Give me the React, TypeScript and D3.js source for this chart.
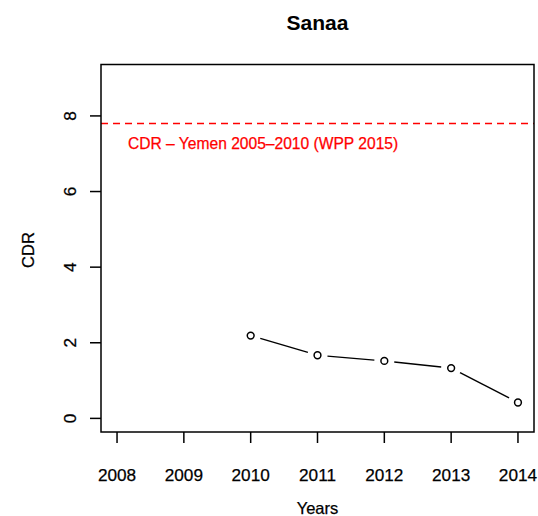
import React from "react";
import * as d3 from "d3";

const years = [2010, 2011, 2012, 2013, 2014];
const cdrValues = [2.19, 1.67, 1.52, 1.33, 0.42];
const xTicks = [2008, 2009, 2010, 2011, 2012, 2013, 2014];
const yTicks = [0, 2, 4, 6, 8];
const referenceCDR = 7.8;
const referenceLabel = "CDR \u2013 Yemen 2005\u20132010 (WPP 2015)";
const title = "Sanaa";
const xLabel = "Years";
const yLabel = "CDR";

const W = 538;
const H = 516;
const left = 101;
const right = 534;
const top = 64.5;
const bottom = 432;

export default function App() {
  const xPad = (2014 - 2008) * 0.04;
  const yPad = (9 - 0) * 0.04;
  const x = d3.scaleLinear().domain([2008 - xPad, 2014 + xPad]).range([left, right]);
  const y = d3.scaleLinear().domain([0 - yPad, 9 + yPad]).range([bottom, top]);

  const pts = years.map((yr, i) => [x(yr), y(cdrValues[i])] as [number, number]);
  const gap = 10;
  const segs = pts.slice(1).map((p, i) => {
    const a = pts[i];
    const dx = p[0] - a[0];
    const dy = p[1] - a[1];
    const L = Math.sqrt(dx * dx + dy * dy);
    const ux = dx / L;
    const uy = dy / L;
    return [a[0] + ux * gap, a[1] + uy * gap, p[0] - ux * gap, p[1] - uy * gap];
  });

  const font = "'Liberation Sans', Arial, Helvetica, sans-serif";

  return (
    <div style={{ position: "absolute", left: 0, top: 0 }}>
      <svg width={W} height={H} style={{ display: "block" }} fontFamily={font}>
        <rect width={W} height={H} fill="white" />
        <text x={(left + right) / 2} y={29.5} textAnchor="middle" fontSize={21} fontWeight="bold" fill="#000">
          {title}
        </text>
        <defs>
          <clipPath id="plotclip">
            <rect x={left} y={top} width={right - left} height={bottom - top} />
          </clipPath>
        </defs>
        <line
          x1={left}
          x2={right}
          y1={y(referenceCDR)}
          y2={y(referenceCDR)}
          stroke="#FF0000"
          strokeWidth={1.7}
          strokeDasharray="7,5"
          clipPath="url(#plotclip)"
        />
        <text x={128} y={y(referenceCDR) + 25.5} fontSize={15.6} fill="#FF0000" stroke="#FF0000" strokeWidth={0.25}>
          {referenceLabel}
        </text>
        {segs.map((s, i) => (
          <line key={i} x1={s[0]} y1={s[1]} x2={s[2]} y2={s[3]} stroke="#000" strokeWidth={1.4} />
        ))}
        {pts.map((p, i) => (
          <circle key={i} cx={p[0]} cy={p[1]} r={3.4} fill="none" stroke="#000" strokeWidth={1.5} />
        ))}
        <rect x={left} y={top} width={right - left} height={bottom - top} fill="none" stroke="#000" strokeWidth={1.5} />
        {xTicks.map((t) => (
          <g key={t}>
            <line x1={x(t)} x2={x(t)} y1={bottom} y2={bottom + 11} stroke="#000" strokeWidth={1.5} />
            <text x={x(t)} y={481} textAnchor="middle" fontSize={17.2} fill="#000" stroke="#000" strokeWidth={0.25}>
              {t}
            </text>
          </g>
        ))}
        {yTicks.map((t) => (
          <g key={t}>
            <line x1={left - 11} x2={left} y1={y(t)} y2={y(t)} stroke="#000" strokeWidth={1.5} />
            <text
              transform={`translate(76,${y(t)}) rotate(-90)`}
              textAnchor="middle"
              fontSize={17.2}
              fill="#000"
              stroke="#000"
              strokeWidth={0.25}
            >
              {t}
            </text>
          </g>
        ))}
        <text x={(left + right) / 2} y={514} textAnchor="middle" fontSize={16.5} fill="#000" stroke="#000" strokeWidth={0.25}>
          {xLabel}
        </text>
        <text
          transform={`translate(34,250) rotate(-90)`}
          textAnchor="middle"
          fontSize={16.5}
          fill="#000"
          stroke="#000"
          strokeWidth={0.25}
        >
          {yLabel}
        </text>
      </svg>
    </div>
  );
}
